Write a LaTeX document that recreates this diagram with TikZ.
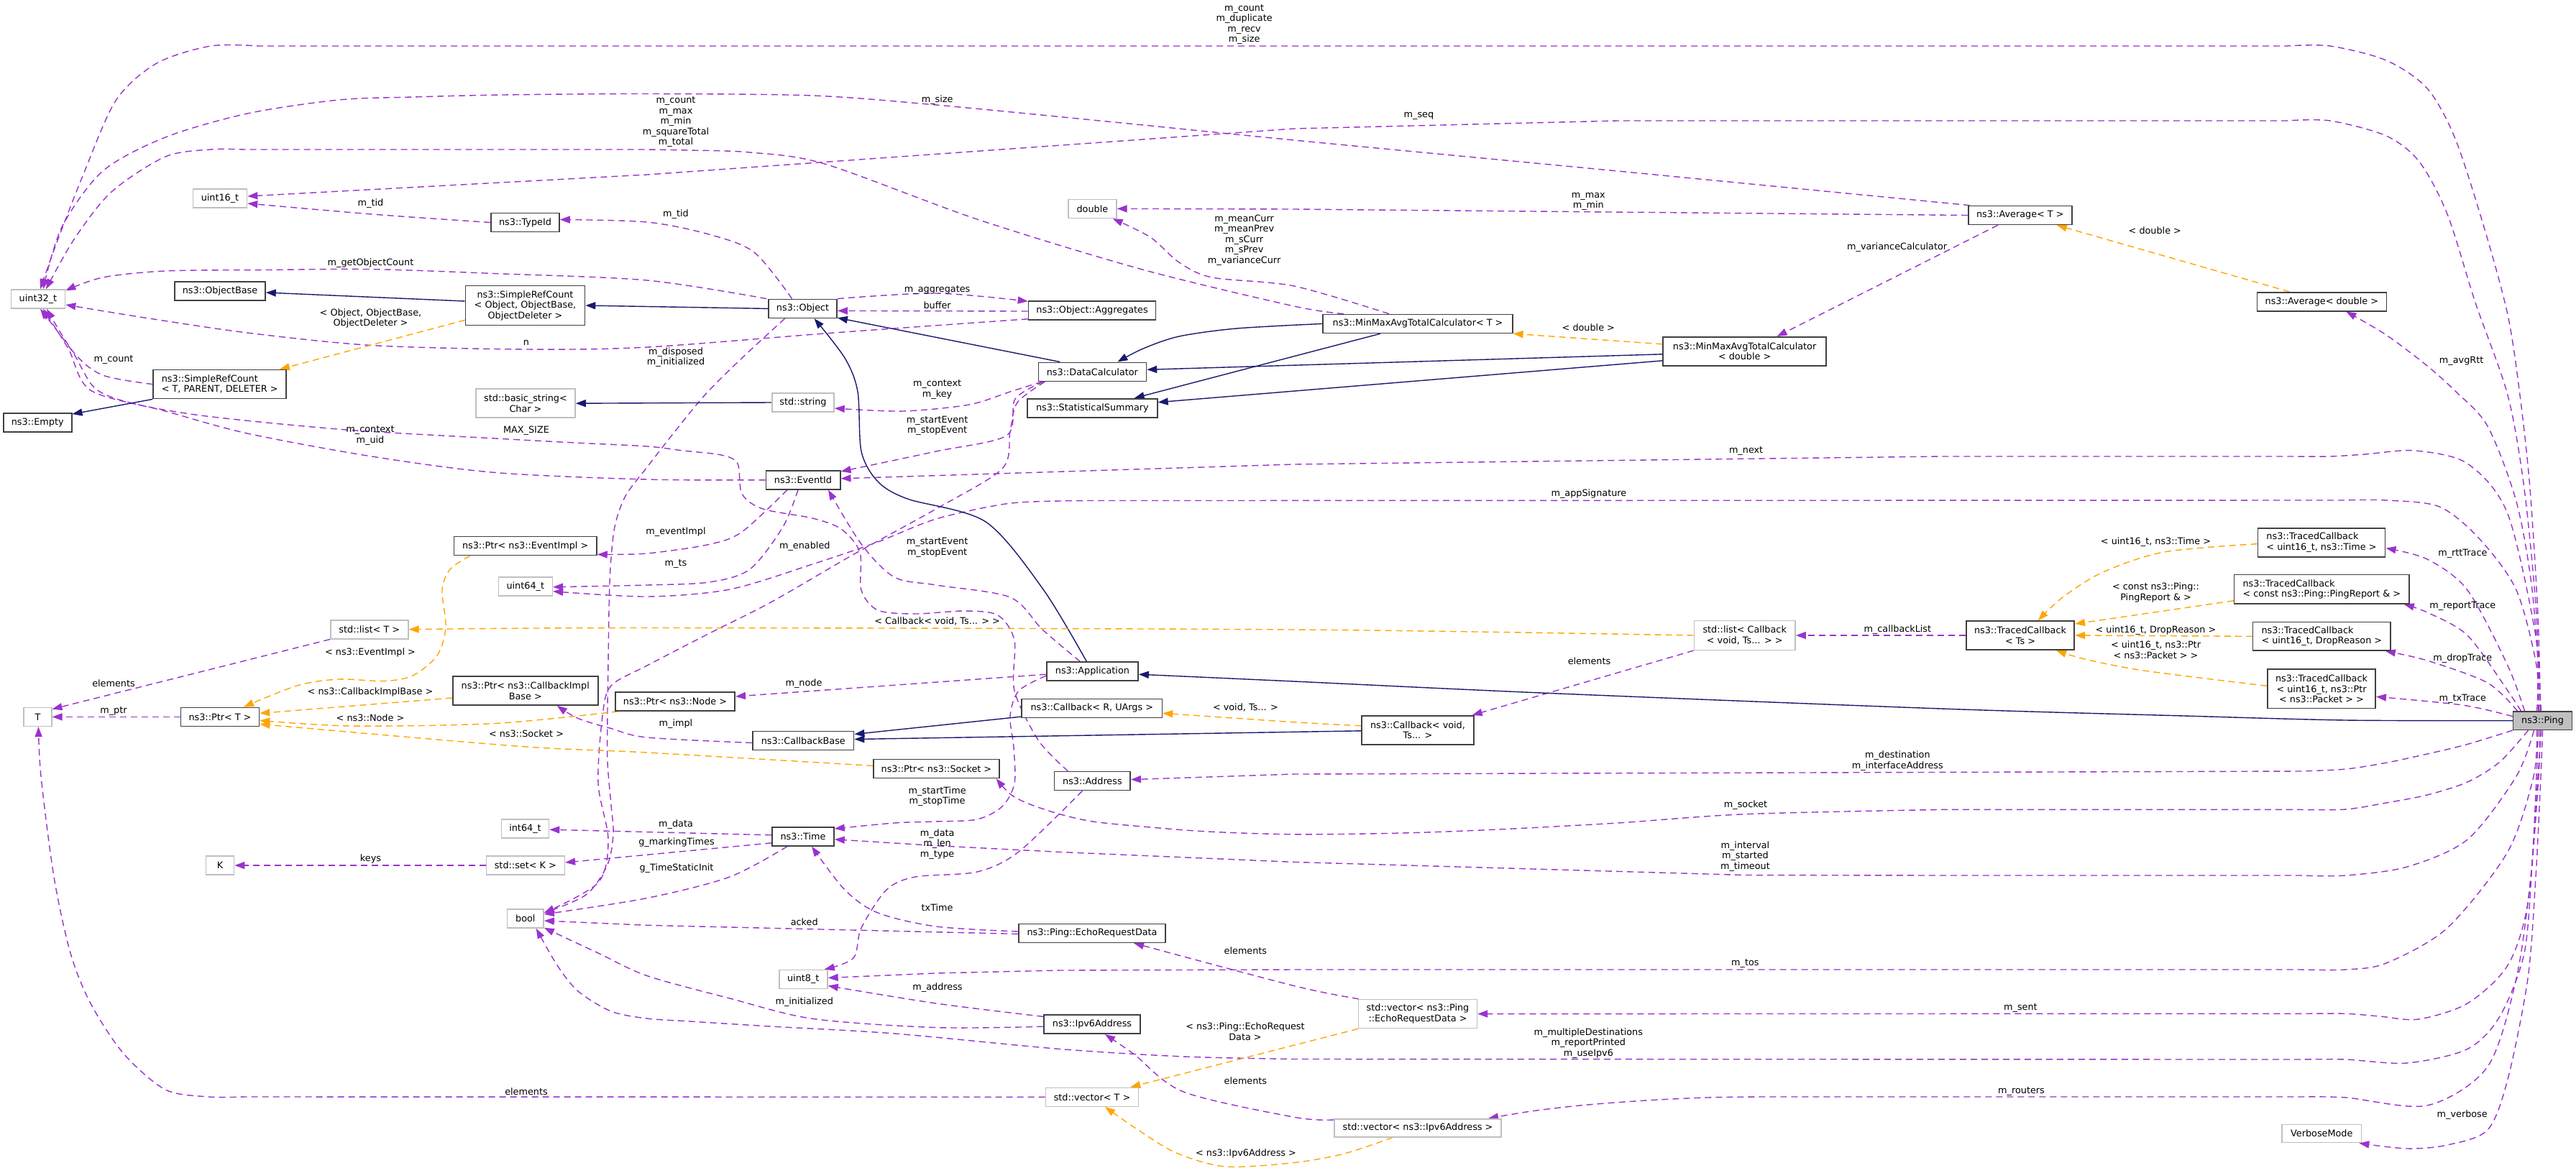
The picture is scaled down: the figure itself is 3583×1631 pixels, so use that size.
\documentclass[tikz,border=0pt]{standalone}
\usepackage{fontspec}
\setmainfont{DejaVu Sans}
\usetikzlibrary{arrows.meta}
\definecolor{edgepurple}{HTML}{9A32CD}
\definecolor{edgeblue}{HTML}{191970}
\definecolor{edgeorange}{HTML}{FFA500}
\definecolor{boxgray}{HTML}{BFBFBF}
\definecolor{boxdark}{HTML}{404040}
\pgfdeclarelayer{bg}
\pgfdeclarelayer{edges}
\pgfsetlayers{bg,edges,main}
\begin{document}
\begin{tikzpicture}[x=1pt,y=-1pt,
  every node/.style={font=\fontsize{12.8}{14.5}\selectfont, inner sep=0pt},
  cls/.style={draw=boxdark, line width=1.6pt, fill=white, minimum height=26pt, align=center},
  ext/.style={draw=boxgray, line width=1.6pt, fill=white, minimum height=26pt, align=center},
  root/.style={draw=boxdark, line width=1.6pt, fill=boxgray, minimum height=26pt},
  lbl/.style={align=center},
  use/.style={draw=edgepurple, line width=1.4pt, dash pattern=on 9pt off 6pt, -{Triangle[length=14pt,width=10pt]}},
  inh/.style={draw=edgeblue, line width=1.4pt, -{Triangle[length=14pt,width=10pt]}},
  tpl/.style={draw=edgeorange, line width=1.4pt, dash pattern=on 9pt off 6pt, -{Triangle[length=14pt,width=10pt]}},
]
\useasboundingbox (0,0) rectangle (3583,1631);
\begin{pgfonlayer}{bg}
\fill[white] (0,0) rectangle (3583,1631);
\end{pgfonlayer}

% ---------------- nodes ----------------
\node[ext, minimum width=75pt] (u16) at (306,276) {uint16\_t};
\node[cls, minimum width=95pt] (typeid) at (730.5,309.5) {ns3::TypeId};
\node[ext, minimum width=75pt] (u32) at (53,416) {uint32\_t};
\node[cls, minimum width=126pt] (objbase) at (306,405) {ns3::ObjectBase};
\node[cls, minimum width=166pt, minimum height=55pt] (srcobj) at (730.5,425) {ns3::SimpleRefCount\\< Object, ObjectBase,\\ObjectDeleter >};
\node[cls, minimum width=185pt, minimum height=40pt, align=left] (srcT) at (305.7,534.6) {ns3::SimpleRefCount\\< T, PARENT, DELETER >};
\node[cls, minimum width=95pt] (empty) at (52.2,587.9) {ns3::Empty};
\node[cls, minimum width=95pt] (object) at (1116.6,429.4) {ns3::Object};
\node[cls, minimum width=177pt] (aggr) at (1519,432) {ns3::Object::Aggregates};
\node[ext, minimum width=67pt] (dbl) at (1519.4,290.4) {double};
\node[cls, minimum width=150pt] (datacalc) at (1519.4,517.3) {ns3::DataCalculator};
\node[ext, minimum width=86pt] (string) at (1117,560) {std::string};
\node[cls, minimum width=181pt] (statsum) at (1519.4,567.7) {ns3::StatisticalSummary};
\node[ext, minimum width=138pt, minimum height=40pt] (basicstr) at (731,561.2) {std::basic\_string<\\Char >};
\node[cls, minimum width=263.5pt] (mmatcT) at (1972,450.4) {ns3::MinMaxAvgTotalCalculator< T >};
\node[cls, minimum width=227pt, minimum height=40pt] (mmatcD) at (2426.6,488.8) {ns3::MinMaxAvgTotalCalculator\\< double >};
\node[cls, minimum width=144pt] (avgT) at (2809.8,299.5) {ns3::Average< T >};
\node[cls, minimum width=180pt] (avgD) at (3229.3,419.7) {ns3::Average< double >};
\node[cls, minimum width=103.4pt] (eventid) at (1117,667.8) {ns3::EventId};
\node[cls, minimum width=198.5pt] (ptrevent) at (730.7,759.6) {ns3::Ptr< ns3::EventImpl >};
\node[ext, minimum width=75pt] (u64) at (730.8,815.7) {uint64\_t};
\node[ext, minimum width=108pt] (listT) at (513.8,875.7) {std::list< T >};
\node[cls, minimum width=202pt, minimum height=40pt] (ptrcb) at (730.8,961) {ns3::Ptr< ns3::CallbackImpl\\Base >};
\node[cls, minimum width=109pt] (ptrT) at (306,997.4) {ns3::Ptr< T >};
\node[ext, minimum width=38.5pt] (tnode) at (52.5,997.4) {T};
\node[cls, minimum width=166.4pt] (ptrnode) at (939,976) {ns3::Ptr< ns3::Node >};
\node[cls, minimum width=127.3pt] (app) at (1519.4,934.2) {ns3::Application};
\node[cls, minimum width=140.6pt] (cbbase) at (1117.3,1030.5) {ns3::CallbackBase};
\node[cls, minimum width=195.2pt] (cbR) at (1518.8,985.3) {ns3::Callback< R, UArgs >};
\node[cls, minimum width=174.7pt] (ptrsock) at (1302.4,1069.4) {ns3::Ptr< ns3::Socket >};
\node[cls, minimum width=105.6pt] (address) at (1519.4,1086.6) {ns3::Address};
\node[ext, minimum width=140.7pt, minimum height=40.7pt] (listcb) at (2426.7,884) {std::list< Callback\\< void, Ts... > >};
\node[cls, minimum width=155.7pt, minimum height=40pt] (cbvoid) at (1972,1015.8) {ns3::Callback< void,\\Ts... >};
\node[cls, minimum width=177.3pt, minimum height=40pt, align=left] (tcTime) at (3229,754.7) {ns3::TracedCallback\\< uint16\_t, ns3::Time >};
\node[cls, minimum width=243.3pt, minimum height=40.4pt, align=left] (tcReport) at (3229.3,819.8) {ns3::TracedCallback\\< const ns3::Ping::PingReport \& >};
\node[cls, minimum width=150.4pt, minimum height=40.4pt] (tcTs) at (2810,884) {ns3::TracedCallback\\< Ts >};
\node[cls, minimum width=191.4pt, minimum height=39.5pt, align=left] (tcDrop) at (3229.3,885.3) {ns3::TracedCallback\\< uint16\_t, DropReason >};
\node[cls, minimum width=150.3pt, minimum height=54.5pt] (tcPkt) at (3229,958.3) {ns3::TracedCallback\\< uint16\_t, ns3::Ptr\\< ns3::Packet > >};
\node[root, minimum width=81.7pt, minimum height=25.3pt] (ping) at (3536.5,1002.7) {ns3::Ping};
\node[ext, minimum width=66pt] (int64) at (730.5,1153.2) {int64\_t};
\node[ext, minimum width=39pt] (knode) at (306,1204) {K};
\node[ext, minimum width=109pt] (setK) at (730.8,1204) {std::set< K >};
\node[ext, minimum width=50.5pt] (boolN) at (730.8,1278) {bool};
\node[cls, minimum width=86pt] (time) at (1117,1163.8) {ns3::Time};
\node[cls, minimum width=204pt] (erd) at (1519,1298.4) {ns3::Ping::EchoRequestData};
\node[ext, minimum width=67.2pt] (u8) at (1117.3,1362.5) {uint8\_t};
\node[cls, minimum width=134pt] (ipv6) at (1519,1425.2) {ns3::Ipv6Address};
\node[ext, minimum width=129pt] (vecT) at (1519,1526.3) {std::vector< T >};
\node[ext, minimum width=164.7pt, minimum height=40pt] (vecERD) at (1972,1410.6) {std::vector< ns3::Ping\\::EchoRequestData >};
\node[ext, minimum width=232.5pt, minimum height=25pt] (vecIpv6) at (1972,1569.3) {std::vector< ns3::Ipv6Address >};
\node[ext, minimum width=110.3pt, minimum height=25.3pt] (verbose) at (3229.3,1577) {VerboseMode};

% ---------------- labels ----------------
\node[lbl] (l01) at (1730.6,34) {m\_count\\m\_duplicate\\m\_recv\\m\_size};
\node[lbl] (l02) at (940,170) {m\_count\\m\_max\\m\_min\\m\_squareTotal\\m\_total};
\node[lbl] (l03) at (1303.6,139) {m\_size};
\node[lbl] (l04) at (1973.4,161.3) {m\_seq};
\node[lbl] (l05) at (2209.3,280.3) {m\_max\\m\_min};
\node[lbl] (l06) at (1730.6,334) {m\_meanCurr\\m\_meanPrev\\m\_sCurr\\m\_sPrev\\m\_varianceCurr};
\node[lbl] (l07) at (2638.6,343.7) {m\_varianceCalculator};
\node[lbl] (l08) at (2997.3,320.6) {< double >};
\node[lbl] (l09) at (2209.3,456) {< double >};
\node[lbl] (l10) at (3423.6,502.6) {m\_avgRtt};
\node[lbl] (l11) at (515.5,283.4) {m\_tid};
\node[lbl] (l12) at (940,298) {m\_tid};
\node[lbl] (l13) at (515.5,366.5) {m\_getObjectCount};
\node[lbl] (l14) at (515.5,443) {< Object, ObjectBase,\\ObjectDeleter >};
\node[lbl] (l15) at (732,477) {n};
\node[lbl] (l16) at (158,501) {m\_count};
\node[lbl] (l17) at (1303.6,403.4) {m\_aggregates};
\node[lbl] (l18) at (1303.6,424.4) {buffer};
\node[lbl] (l19) at (940,497) {m\_disposed\\m\_initialized};
\node[lbl] (l20) at (1303.6,542) {m\_context\\m\_key};
\node[lbl] (l21) at (515,606) {m\_context\\m\_uid};
\node[lbl] (l22) at (732,599.6) {MAX\_SIZE};
\node[lbl] (l23) at (1303.6,592.3) {m\_startEvent\\m\_stopEvent};
\node[lbl] (l24) at (2428.6,627.7) {m\_next};
\node[lbl] (l25) at (2209.9,687.3) {m\_appSignature};
\node[lbl] (l26) at (940,740) {m\_eventImpl};
\node[lbl] (l27) at (1119.3,760.3) {m\_enabled};
\node[lbl] (l28) at (940,784.5) {m\_ts};
\node[lbl] (l29) at (1303.6,761.7) {m\_startEvent\\m\_stopEvent};
\node[lbl] (l30) at (2998.5,754.3) {< uint16\_t, ns3::Time >};
\node[lbl] (l31) at (3425.3,770.8) {m\_rttTrace};
\node[lbl] (l32) at (2998.5,824.3) {< const ns3::Ping::\\PingReport \& >};
\node[lbl] (l33) at (3425.3,843.7) {m\_reportTrace};
\node[lbl] (l34) at (1303.6,864.4) {< Callback< void, Ts... > >};
\node[lbl] (l35) at (2639.3,875.7) {m\_callbackList};
\node[lbl] (l36) at (2998.5,876.7) {< uint16\_t, DropReason >};
\node[lbl] (l37) at (2998.5,904) {< uint16\_t, ns3::Ptr\\< ns3::Packet > >};
\node[lbl] (l38) at (3425.3,915.7) {m\_dropTrace};
\node[lbl] (l39) at (515,907.6) {< ns3::EventImpl >};
\node[lbl] (l40) at (158,950.4) {elements};
\node[lbl] (l41) at (2210.5,919.5) {elements};
\node[lbl] (l42) at (1118,951) {m\_node};
\node[lbl] (l43) at (515,963.4) {< ns3::CallbackImplBase >};
\node[lbl] (l44) at (3425.3,972.5) {m\_txTrace};
\node[lbl] (l45) at (1732.4,984.4) {< void, Ts... >};
\node[lbl] (l46) at (158,989) {m\_ptr};
\node[lbl] (l47) at (515,998.4) {< ns3::Node >};
\node[lbl] (l48) at (940,1007.6) {m\_impl};
\node[lbl] (l49) at (732,1020.5) {< ns3::Socket >};
\node[lbl] (l50) at (2639.3,1058.7) {m\_destination\\m\_interfaceAddress};
\node[lbl] (l51) at (1303.6,1108) {m\_startTime\\m\_stopTime};
\node[lbl] (l52) at (2428,1120.4) {m\_socket};
\node[lbl] (l53) at (940,1147.5) {m\_data};
\node[lbl] (l54) at (1303.6,1174.5) {m\_data\\m\_len\\m\_type};
\node[lbl] (l55) at (941,1171.7) {g\_markingTimes};
\node[lbl] (l56) at (2427.4,1191.3) {m\_interval\\m\_started\\m\_timeout};
\node[lbl] (l57) at (515.5,1195.2) {keys};
\node[lbl] (l58) at (941,1208.3) {g\_TimeStaticInit};
\node[lbl] (l59) at (1303.6,1262.4) {txTime};
\node[lbl] (l60) at (1118.7,1283) {acked};
\node[lbl] (l61) at (1732.4,1322.4) {elements};
\node[lbl] (l62) at (2427.4,1340.7) {m\_tos};
\node[lbl] (l63) at (1304,1374.5) {m\_address};
\node[lbl] (l64) at (1118.7,1394.5) {m\_initialized};
\node[lbl] (l65) at (2810.4,1402.6) {m\_sent};
\node[lbl] (l66) at (1732,1435) {< ns3::Ping::EchoRequest\\Data >};
\node[lbl] (l67) at (2209.3,1451.5) {m\_multipleDestinations\\m\_reportPrinted\\m\_useIpv6};
\node[lbl] (l68) at (1732.4,1503.4) {elements};
\node[lbl] (l69) at (732,1518.5) {elements};
\node[lbl] (l70) at (2811.5,1518.5) {m\_routers};
\node[lbl] (l71) at (3424.7,1551.5) {m\_verbose};
\node[lbl] (l72) at (1733,1604.6) {< ns3::Ipv6Address >};

% ---------------- edges ----------------
\begin{pgfonlayer}{edges}
% usage (purple)
\draw[use] plot[smooth] coordinates {([xshift=-3pt]ping.north) (3530,856) (3519,680) (3505,550) (3488,438) (3455,316) (3415,193) (3376,123) (3319,84) (3241,64) (3180,64)}
  -- plot[smooth] coordinates {(360,64) (293,64) (218,88) (161,140) (115,245) (78,340) ([xshift=3pt]u32.north)};
\draw[use] plot[smooth] coordinates {([xshift=-6pt]ping.north) (3528,856) (3511,680) (3488,550) (3443,421) (3404,298) (3365,225) (3319,189) (3241,168) (3180,168)}
  -- (2250,168) -- (1800,179) -- (900,243) -- ([yshift=3pt]u16.east);
\draw[use] plot[smooth] coordinates {([xshift=-103pt]mmatcT.north) (1800,426) (1589,375) (1359,305) (1147,228) (1043,212) (957,209) (900,208)}
  -- plot[smooth] coordinates {(340,208) (293,208) (230,218) (155,267) (103,333) ([xshift=11pt]u32.north)};
\draw[use] plot[smooth] coordinates {([xshift=-70pt]avgT.north) (2250,238) (1800,195) (1550,170) (1302,146) (1130,133) (900,130.5) (700,132) (574,135) (471,139) (344,158) (230,191) (143,238) (86,316) ([xshift=7pt]u32.north)};
\draw[use] (avgT.west) -- (1800,291) -- (dbl.east);
\draw[use] ([xshift=-31pt]avgT.south) -- ([xshift=45pt]mmatcD.north);
\draw[use] plot[smooth] coordinates {([xshift=-40pt]mmatcT.north) (1800,398) (1686,386) (1640,365) (1600,330) ([xshift=-6pt]dbl.south east)};
\draw[use] plot[smooth] coordinates {([xshift=-2pt]object.north west) (900,390) (689,380.6) (517,374.6) (370,375.5) (230,377) (143,386) ([yshift=-2pt]u32.north east)};
\draw[use] plot[smooth] coordinates {([xshift=-15pt]object.north) (1049,351) (986,326) (900,309) ([yshift=4pt]typeid.east)};
\draw[use] plot[smooth] coordinates {(typeid.west) (517,298) ([yshift=-7pt]u16.east)};
\draw[use] plot[smooth] coordinates {([yshift=2pt]aggr.south west) (1160,463) (900,483) (732,486) (517,480.5) (344,463) (201,442) ([yshift=-8pt]u32.east)};
\draw[use] plot[smooth] coordinates {(object.north east) (1302,408) ([yshift=-1pt]aggr.north west)};
\draw[use] ([yshift=-1pt]aggr.west) -- ([yshift=-3pt]object.east);
\draw[use] plot[smooth] coordinates {([xshift=-25pt]object.south) (1030,500) (980,550) (935,605) (900,650) (870,690) (855,733) (849,790) (847,850) (846,920) (845,990) (845,1060) (850,1120) (853,1160) (845,1203) (815,1245) ([yshift=8pt]boolN.east)};
\draw[use] plot[smooth] coordinates {([xshift=-70pt]datacalc.south) (1405,545) (1348,563) (1256,572) ([yshift=-8pt]string.east)};
\draw[use] plot[smooth] coordinates {([xshift=-68pt]datacalc.south) (1412,555) (1400,606) (1302,628) ([yshift=-2pt]eventid.north east)};
\draw[use] plot[smooth] coordinates {([xshift=-66pt]datacalc.south) (1415,560) (1405,600) (1394,652) (1302,708) (1187,771.5) (1072,838) (985,882) (900,926) (850,954) (838,996) (832,1090) (846,1168) (832,1228) ([yshift=8pt]boolN.east)};
\draw[use] plot[smooth] coordinates {([xshift=-17pt]app.north) (1450,876) (1405,831) (1302,814) (1244,803) (1198,757) ([xshift=35pt]eventid.south)};
\draw[use] plot[smooth] coordinates {(eventid.west) (900,667) (689,657.5) (517,635) (344,603) (230,572) (126,543) (95,485) ([xshift=7pt]u32.south)};
\draw[use] plot[smooth] coordinates {([xshift=-34pt]address.north) (1445,1031) (1411,961) (1411,891) (1388,856) (1342,850) (1273,854) (1221,849) (1198,821) (1196,768) (1170,736) (1130,721) (1061,708) (1032,687) (1026,645) (1003,633) (950,627) (900,621) (800,616) (689,610) (482,598) (287,579) (184,561) (132,540) (100,488) ([xshift=3pt]u32.south)};
\draw[use] plot[smooth] coordinates {([xshift=-22pt]eventid.south) (1032,740) (986,757.5) (900,770) ([yshift=2pt]ptrevent.south east)};
\draw[use] plot[smooth] coordinates {([xshift=-7pt]eventid.south) (1089,733) (1043,792) (986,810) (900,814) ([yshift=-1pt]u64.east)};
\draw[use] plot[smooth] coordinates {([xshift=-8pt]ping.north) (3528,926) (3500,821) (3449,750) (3393,705) (3319,696) (3260,696)}
  -- plot[smooth] coordinates {(1540,696.5) (1474,697) (1399,701) (1302,722) (1221,754) (1130,785) (1015,820) (900,830) ([yshift=-7pt]u64.east)};
\draw[use] plot[smooth] coordinates {([xshift=-5pt]ping.north) (3528,891) (3488,715) (3432,645) (3359,627) (3290,632) (3241,635) (3190,635)}
  -- (2700,635) -- (1800,646) -- ([yshift=2pt]eventid.east);
\draw[use] plot[smooth] coordinates {([xshift=-25pt]ping.north) (3488,926) (3432,821) (3376,778) ([yshift=-8pt]tcTime.east)};
\draw[use] plot[smooth] coordinates {([xshift=-30pt]ping.north) (3488,961) (3432,884) (3376,852) ([xshift=-8pt]tcReport.south east)};
\draw[use] plot[smooth] coordinates {([xshift=-35pt]ping.north) (3460,950) (3376,919) ([xshift=-8pt]tcDrop.south east)};
\draw[use] plot[smooth] coordinates {([yshift=6pt]ping.west) (3425,981) ([yshift=-11pt]tcPkt.east)};
\draw[use] plot[smooth] coordinates {([xshift=-2pt]ping.north) (3522,821) (3500,698) (3460,593) (3416,545) (3376,509) (3319,466) ([xshift=34pt]avgD.south)};
\draw[use] plot[smooth] coordinates {(ping.south west) (3430,1036) (3376,1049) (3320,1061) (3263,1070) (3200,1073)}
  -- (1800,1077) -- ([yshift=2pt]address.east);
\draw[use] plot[smooth] coordinates {([xshift=-20pt]ping.south) (3477,1060) (3432,1088) (3376,1106) (3319,1117) (3263,1126) (3200,1126.4)}
  -- plot[smooth] coordinates {(2700,1126.4) (2428,1132.7) (2250,1145) (2087,1153.8) (1950,1159) (1800,1160.8) (1680,1157) (1589,1150) (1520,1143) (1474,1132.7) (1430,1118) (1405,1104.6) ([xshift=-5pt]ptrsock.south east)};
\draw[use] plot[smooth] coordinates {([xshift=-12pt]ping.south) (3500,1080) (3432,1168) (3348,1206) (3263,1218) (3200,1218)}
  -- (2700,1218) -- (2427,1217.5) -- (1800,1199.4) -- (1474,1185.4) -- (1302,1176.6) -- ([yshift=-4pt]time.east);
\draw[use] plot[smooth] coordinates {([xshift=-8pt]ping.south) (3524,1080) (3488,1185) (3404,1291) (3319,1340) (3263,1349) (3200,1349)}
  -- (1800,1349) -- (1474,1350) -- (1302,1354) -- ([yshift=2pt]u8.east);
\draw[use] plot[smooth] coordinates {([xshift=-4pt]ping.south) (3531,1080) (3516,1256) (3488,1343) (3432,1396) (3364,1418) (3310,1414) (3263,1410.3) (3200,1410.3)}
  -- (vecERD.east);
\draw[use] plot[smooth] coordinates {([xshift=-6pt]ping.south) (3528,1080) (3522,1200) (3511,1326) (3477,1414) (3432,1459.5) (3348,1479) (3263,1474) (3200,1474)}
  -- plot[smooth] coordinates {(1800,1473.5) (1646,1470) (1474,1459.5) (1244,1438) (1072,1428) (960,1421) (900,1417) (850,1407) (804,1379) (775,1343) ([xshift=15pt]boolN.south)};
\draw[use] plot[smooth] coordinates {([xshift=-2pt]ping.south) (3530,1080) (3520,1220) (3500,1361) (3460,1484) (3376,1538) (3263,1527) (3200,1526)}
  -- plot[smooth] coordinates {(2450,1526) (2374,1527) (2290,1531) (2202,1537.6) (2130,1546) ([xshift=98pt]vecIpv6.north)};
\draw[use] plot[smooth] coordinates {(ping.south) (3534,1080) (3527,1220) (3516,1361) (3488,1501.6) (3460,1572) (3404,1593) (3348,1598) ([xshift=-4pt]verbose.south east)};
\draw[use] (ptrT.west) -- (tnode.east);
\draw[use] (listT.south west) -- ([yshift=-3pt]tnode.north east);
\draw[use] (vecT.west) -- plot[smooth] coordinates {(340,1526) (290,1526) (230,1516) (172,1466) (126,1396) (98,1326) (75,1220) (57,1080) ([xshift=1pt]tnode.south)};
\draw[use] plot[smooth] coordinates {([yshift=-3pt]cbbase.west) (900,1026) (850,1013.5) (804,999.5) ([xshift=44pt]ptrcb.south)};
\draw[use] ([yshift=-4pt]app.west) -- ([yshift=7pt]ptrnode.east);
\draw[use] plot[smooth] coordinates {([yshift=-6pt]app.west) (1417,961) (1405,996) (1410,1040) (1411,1090) (1394,1122) (1359,1140) (1300,1143) (1244,1145) ([yshift=-3pt]time.north east)};
\draw[use] (setK.west) -- (knode.east);
\draw[use] ([yshift=2pt]time.west) -- ([yshift=-1pt]int64.east);
\draw[use] ([yshift=-9pt]time.west) -- ([yshift=4pt]setK.east);
\draw[use] plot[smooth] coordinates {([xshift=-22pt]time.south) (1015,1220) (900,1249.5) ([yshift=6pt]boolN.east)};
\draw[use] plot[smooth] coordinates {([yshift=2.4pt]erd.west) (1302,1289) (1221,1270) (1175,1238) ([xshift=12pt]time.south)};
\draw[use] ([yshift=-1pt]erd.west) -- (900,1287.3) -- ([yshift=-3pt]boolN.east);
\draw[use] plot[smooth] coordinates {([xshift=-14pt]address.south) (1417,1185) (1359,1213) (1273,1220) (1233,1238) (1198,1291) (1187,1333) ([xshift=-5pt]u8.north east)};
\draw[use] plot[smooth] coordinates {([yshift=-3pt]ipv6.north west) (1302,1396) ([yshift=-9pt]u8.east)};
\draw[use] plot[smooth] coordinates {([yshift=-3pt]ipv6.west) (1302,1429.6) (1130,1417.3) (1015,1389) (900,1357.6) (832,1326) ([yshift=1pt]boolN.south east)};
\draw[use] plot[smooth] coordinates {([xshift=1pt]vecERD.north west) (1800,1371.6) ([xshift=58pt]erd.south)};
\draw[use] plot[smooth] coordinates {([yshift=-2pt]vecIpv6.north west) (1800,1554.3) (1646,1519) (1577,1466.5) ([xshift=18pt]ipv6.south)};
\draw[use] (listcb.south west) -- ([xshift=-3pt]cbvoid.north east);
\draw[use] (tcTs.west) -- (listcb.east);
\draw[use] plot[smooth] coordinates {(srcT.west) (143,522) (103,491) ([xshift=12pt]u32.south)};
% inheritance (blue)
\draw[inh] ([yshift=6pt]srcobj.west) -- ([yshift=-2pt]objbase.east);
\draw[inh] (object.west) -- (srcobj.east);
\draw[inh] (srcT.south west) -- ([yshift=-2pt]empty.north east);
\draw[inh] ([xshift=-45pt]datacalc.north) -- ([yshift=1pt]object.south east);
\draw[inh] plot[smooth] coordinates {([xshift=-8pt]app.north) (1451,820) (1371,726) (1262,694) (1221,670) (1198,628) (1193,545) (1175,498) ([xshift=16pt]object.south)};
\draw[inh] plot[smooth] coordinates {(mmatcT.west) (1720,457) (1640,468) (1590,485) ([xshift=35pt]datacalc.north)};
\draw[inh] ([xshift=-52pt]mmatcT.south) -- ([xshift=-33pt]statsum.north east);
\draw[inh] ([yshift=-4pt]mmatcD.west) -- ([yshift=3pt]datacalc.east);
\draw[inh] ([yshift=-13pt]mmatcD.west) -- ([yshift=8pt]statsum.east);
\draw[inh] (string.west) -- (basicstr.east);
\draw[inh] plot[smooth] coordinates {(ping.west) (3263,1002) (3038,996) (2700,986) (2144,964) (1800,948) ([yshift=-4pt]app.east)};
\draw[inh] ([yshift=-1pt]cbvoid.west) -- ([yshift=2pt]cbbase.east);
\draw[inh] ([yshift=2pt]cbR.south west) -- ([yshift=9pt]cbbase.east);
% template instances (orange)
\draw[tpl] ([yshift=8pt]srcobj.south west) -- ([xshift=-10pt]srcT.north east);
\draw[tpl] ([yshift=10pt]mmatcD.west) -- (mmatcT.south east);
\draw[tpl] ([xshift=-45pt]avgD.north) -- ([xshift=51pt]avgT.south);
\draw[tpl] plot[smooth] coordinates {([xshift=-77pt]ptrevent.south) (626,792) (615,821) (620,873) (608,912) (574,940) (534,947.6) (471,945) (413,954) ([xshift=33pt]ptrT.north)};
\draw[tpl] ([yshift=-10pt]ptrcb.west) -- ([yshift=5pt]ptrT.east);
\draw[tpl] plot[smooth] coordinates {([xshift=5pt]ptrnode.south west) (689,1006.5) (488,1010) ([yshift=-5pt]ptrT.east)};
\draw[tpl] plot[smooth] coordinates {([yshift=4pt]ptrsock.west) (900,1047) (718,1038) ([yshift=-10pt]ptrT.east)};
\draw[tpl] plot[smooth] coordinates {(listcb.west) (1800,876) (900,873.5) (listT.east)};
\draw[tpl] plot[smooth] coordinates {([yshift=6pt]cbvoid.west) (1800,1004.7) ([yshift=-7pt]cbR.east)};
\draw[tpl] plot[smooth] coordinates {([yshift=-2pt]tcTime.west) (3010,768) (2925,796) (2869,831) ([xshift=25pt]tcTs.north)};
\draw[tpl] ([yshift=-16pt]tcReport.west) -- ([yshift=16pt]tcTs.east);
\draw[tpl] (tcDrop.west) -- (tcTs.east);
\draw[tpl] plot[smooth] coordinates {([yshift=4pt]tcPkt.west) (2982,933) (2900,917) ([xshift=50pt]tcTs.south)};
\draw[tpl] (vecERD.south west) -- ([xshift=-12pt]vecT.north east);
\draw[tpl] plot[smooth] coordinates {([xshift=-35pt]vecIpv6.south) (1870,1605) (1800,1617.6) (1704,1623) (1635,1603.5) (1580,1570) ([xshift=18pt]vecT.south)};
\end{pgfonlayer}
\end{tikzpicture}
\end{document}
